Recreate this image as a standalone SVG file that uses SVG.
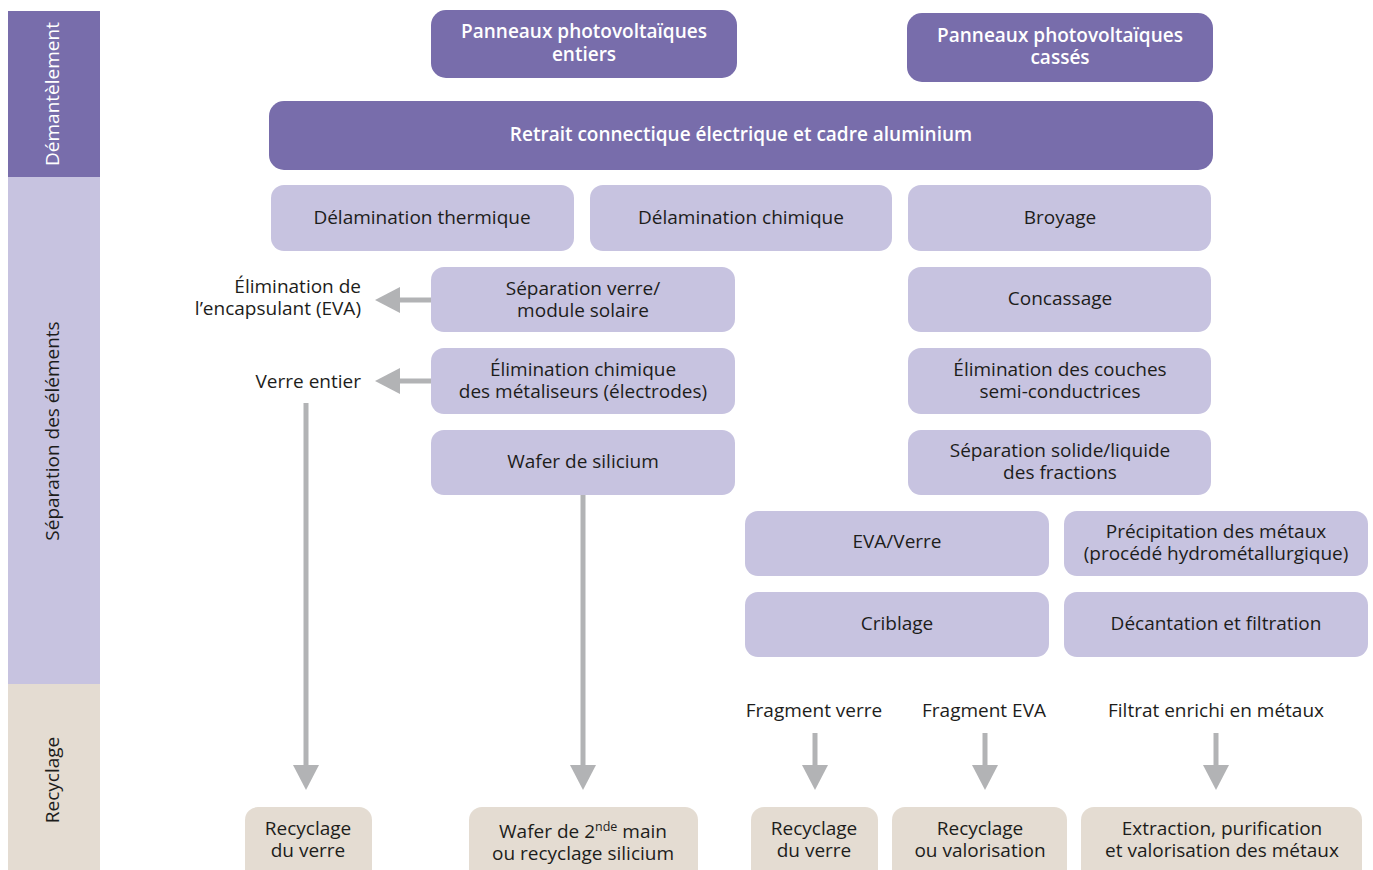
<svg xmlns="http://www.w3.org/2000/svg" width="1373" height="870" viewBox="0 0 1373 870">
<style>
text{font-family:"Open Sans","Noto Sans","Liberation Sans",sans-serif;font-size:19px;fill:#1d1d1b;text-anchor:middle}
.dark{fill:#786dab}
.light{fill:#c7c3e0}
.beige{fill:#e4dcd2}
.w{fill:#ffffff;font-weight:600}
.r{text-anchor:end}
.conn line{stroke:#b2b3b5;stroke-width:5}
.conn polygon{fill:#b2b3b5}
</style>
<rect width="1373" height="870" fill="#ffffff"/>
<g id="sidebar">
<rect x="8" y="11" width="92" height="166" class="dark"/>
<rect x="8" y="177" width="92" height="507" class="light"/>
<rect x="8" y="684" width="92" height="190" class="beige"/>
<text transform="translate(59,94) rotate(-90)" style="fill:#ffffff">Démantèlement</text>
<text transform="translate(59,431) rotate(-90)">Séparation des éléments</text>
<text transform="translate(59,780) rotate(-90)">Recyclage</text>
</g>
<g id="n-entiers"><rect x="431" y="10" width="306" height="68" rx="15" class="dark"/><text x="584" y="38" class="w">Panneaux photovoltaïques</text><text x="584" y="61" class="w">entiers</text></g>
<g id="n-casses"><rect x="907" y="13" width="306" height="69" rx="15" class="dark"/><text x="1060" y="42" class="w">Panneaux photovoltaïques</text><text x="1060" y="64" class="w">cassés</text></g>
<g id="n-retrait"><rect x="269" y="101" width="944" height="69" rx="15" class="dark"/><text x="741" y="141" class="w">Retrait connectique électrique et cadre aluminium</text></g>
<g id="n-delam-th"><rect x="271" y="185" width="303" height="66" rx="13" class="light"/><text x="422" y="224">Délamination thermique</text></g>
<g id="n-delam-ch"><rect x="590" y="185" width="302" height="66" rx="13" class="light"/><text x="741" y="224">Délamination chimique</text></g>
<g id="n-broyage"><rect x="908" y="185" width="303" height="66" rx="13" class="light"/><text x="1060" y="224">Broyage</text></g>
<g id="n-sep-verre"><rect x="431" y="267" width="304" height="65" rx="13" class="light"/><text x="583" y="295">Séparation verre/</text><text x="583" y="317">module solaire</text></g>
<g id="n-concassage"><rect x="908" y="267" width="303" height="65" rx="13" class="light"/><text x="1060" y="305">Concassage</text></g>
<g id="n-elim-ch"><rect x="431" y="348" width="304" height="66" rx="13" class="light"/><text x="583" y="376">Élimination chimique</text><text x="583" y="398">des métaliseurs (électrodes)</text></g>
<g id="n-elim-couches"><rect x="908" y="348" width="303" height="66" rx="13" class="light"/><text x="1060" y="376">Élimination des couches</text><text x="1060" y="398">semi-conductrices</text></g>
<g id="n-wafer"><rect x="431" y="430" width="304" height="65" rx="13" class="light"/><text x="583" y="468">Wafer de silicium</text></g>
<g id="n-sep-sl"><rect x="908" y="430" width="303" height="65" rx="13" class="light"/><text x="1060" y="457">Séparation solide/liquide</text><text x="1060" y="479">des fractions</text></g>
<g id="n-eva-verre"><rect x="745" y="511" width="304" height="65" rx="13" class="light"/><text x="897" y="548">EVA/Verre</text></g>
<g id="n-precip"><rect x="1064" y="511" width="304" height="65" rx="13" class="light"/><text x="1216" y="538">Précipitation des métaux</text><text x="1216" y="560">(procédé hydrométallurgique)</text></g>
<g id="n-criblage"><rect x="745" y="592" width="304" height="65" rx="13" class="light"/><text x="897" y="630">Criblage</text></g>
<g id="n-decant"><rect x="1064" y="592" width="304" height="65" rx="13" class="light"/><text x="1216" y="630">Décantation et filtration</text></g>
<g id="l-encaps"><text x="361" y="293" class="r">Élimination de</text><text x="361" y="315" class="r">l’encapsulant (EVA)</text></g>
<g id="l-verre-entier"><text x="361" y="388" class="r">Verre entier</text></g>
<g id="l-frag-verre"><text x="814" y="717">Fragment verre</text></g>
<g id="l-frag-eva"><text x="984" y="717">Fragment EVA</text></g>
<g id="l-filtrat"><text x="1216" y="717">Filtrat enrichi en métaux</text></g>
<g id="n-rec-verre1"><rect x="245" y="807" width="127" height="80" rx="13" class="beige"/><text x="308" y="835">Recyclage</text><text x="308" y="857">du verre</text></g>
<g id="n-wafer2"><rect x="469" y="807" width="229" height="80" rx="13" class="beige"/><text x="583" y="838">Wafer de 2<tspan dy="-7" style="font-size:12.5px">nde</tspan><tspan dy="7"> main</tspan></text><text x="583" y="860">ou recyclage silicium</text></g>
<g id="n-rec-verre2"><rect x="751" y="807" width="127" height="80" rx="13" class="beige"/><text x="814" y="835">Recyclage</text><text x="814" y="857">du verre</text></g>
<g id="n-rec-val"><rect x="892" y="807" width="175" height="80" rx="13" class="beige"/><text x="980" y="835">Recyclage</text><text x="980" y="857">ou valorisation</text></g>
<g id="n-extraction"><rect x="1081" y="807" width="281" height="80" rx="13" class="beige"/><text x="1222" y="835">Extraction, purification</text><text x="1222" y="857">et valorisation des métaux</text></g>
<g id="connectors" class="conn">
<line x1="431" y1="300" x2="397" y2="300"/><polygon points="375,300 400,287 400,313"/>
<line x1="431" y1="381" x2="397" y2="381"/><polygon points="375,381 400,368 400,394"/>
<line x1="306" y1="403" x2="306" y2="768"/><polygon points="306,790 293,765 319,765"/>
<line x1="583" y1="495" x2="583" y2="768"/><polygon points="583,790 570,765 596,765"/>
<line x1="815" y1="733" x2="815" y2="768"/><polygon points="815,790 802,765 828,765"/>
<line x1="985" y1="733" x2="985" y2="768"/><polygon points="985,790 972,765 998,765"/>
<line x1="1216" y1="733" x2="1216" y2="768"/><polygon points="1216,790 1203,765 1229,765"/>
</g>
</svg>
